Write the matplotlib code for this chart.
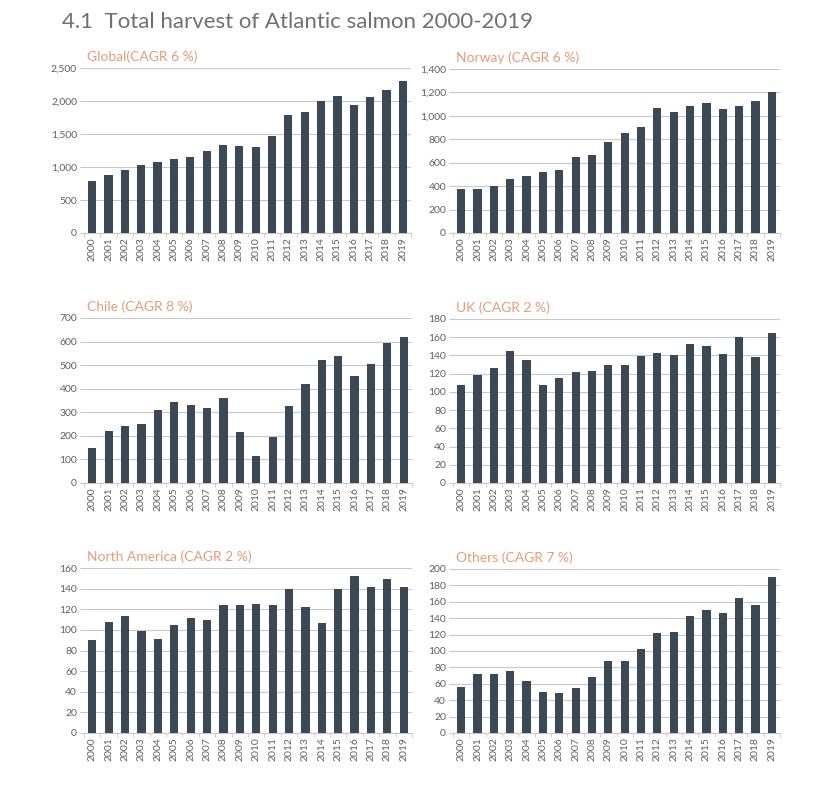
import numpy as np
import matplotlib
matplotlib.use("Agg")
import matplotlib.pyplot as plt
from matplotlib.ticker import FuncFormatter

# data (thousand tonnes)
years = [str(y) for y in range(2000, 2020)]

global_vals = [783, 884, 950, 1035, 1081, 1121, 1146, 1247, 1338, 1323,
               1308, 1470, 1793, 1833, 1995, 2076, 1944, 2060, 2161, 2308]
norway_vals = [378, 372, 398, 460, 486, 520, 537, 650, 667, 775,
               852, 909, 1068, 1031, 1082, 1110, 1056, 1088, 1127, 1201]
chile_vals = [148, 221, 242, 252, 310, 345, 331, 320, 362, 216,
              116, 197, 327, 421, 523, 539, 454, 505, 592, 619]
uk_vals = [108, 119, 126, 145, 135, 108, 115, 122, 123, 130,
           129, 139, 143, 141, 153, 150, 142, 160, 138, 165]
na_vals = [90, 108, 113, 99, 91, 105, 112, 110, 124, 124,
           125, 124, 140, 122, 107, 140, 152, 142, 149, 142]
others_vals = [56, 72, 72, 76, 64, 50, 49, 55, 68, 88,
               88, 103, 122, 123, 143, 150, 146, 165, 156, 190]

titles = ["Global(CAGR 6 %)", "Norway (CAGR 6 %)", "Chile (CAGR 8 %)",
          "UK (CAGR 2 %)", "North America (CAGR 2 %)", "Others (CAGR 7 %)"]
series = [global_vals, norway_vals, chile_vals, uk_vals, na_vals, others_vals]
ymax = [2500, 1400, 700, 180, 160, 200]
ystep = [500, 200, 100, 20, 20, 20]

# pixel boxes of each panel: left, right, top, bottom
boxes = [(84, 411, 68, 233), (453, 780, 69, 233),
         (84, 412, 318, 483), (453, 780, 319, 483),
         (84, 412, 568, 733), (453, 780, 569, 733)]

W, H = 839, 785
BAR = "#3b4954"
GRID = "#c8c8c8"
TXT = "#606060"
ORANGE = "#e59c78"

plt.rcParams["font.family"] = ["Lato", "DejaVu Sans"]
fig = plt.figure(figsize=(W / 100, H / 100), dpi=100)
fig.patch.set_facecolor("white")

fig.text(62 / W, 1 - 22 / H, "4.1  Total harvest of Atlantic salmon 2000-2019",
         fontsize=16, color="#707070", ha="left", va="center")

x = np.arange(len(years))
for vals, ttl, top, step, (l, r, t, b) in zip(series, titles, ymax, ystep, boxes):
    ax = fig.add_axes([l / W, 1 - b / H, (r - l) / W, (b - t) / H])
    ax.bar(x, vals, width=0.5, color=BAR, zorder=3)
    ax.set_xlim(-0.5, len(years) - 0.5)
    ax.set_ylim(0, top)
    ax.set_yticks(np.arange(0, top + 1, step))
    ax.yaxis.set_major_formatter(FuncFormatter(lambda v, p: f"{int(v):,}"))
    ax.set_xticks(x)
    ax.set_xticklabels(years, rotation=90)
    ax.set_xticks(np.arange(-0.5, len(years), 1), minor=True)
    ax.tick_params(axis="x", which="major", length=0, labelsize=7.5, colors=TXT, pad=3)
    ax.tick_params(axis="x", which="minor", length=3, color=GRID, direction="out")
    ax.tick_params(axis="y", length=3, color=GRID, labelsize=7.5, colors=TXT, pad=2)
    ax.grid(axis="y", color=GRID, linewidth=0.8, zorder=0)
    for s in ["top", "right", "left"]:
        ax.spines[s].set_visible(False)
    ax.spines["bottom"].set_color(GRID)
    ax.spines["bottom"].set_linewidth(0.8)
    ax.text(0.01, 1.03, ttl, transform=ax.transAxes, fontsize=10,
            color=ORANGE, ha="left", va="bottom")

fig.savefig("out.png", dpi=100, facecolor="white")
